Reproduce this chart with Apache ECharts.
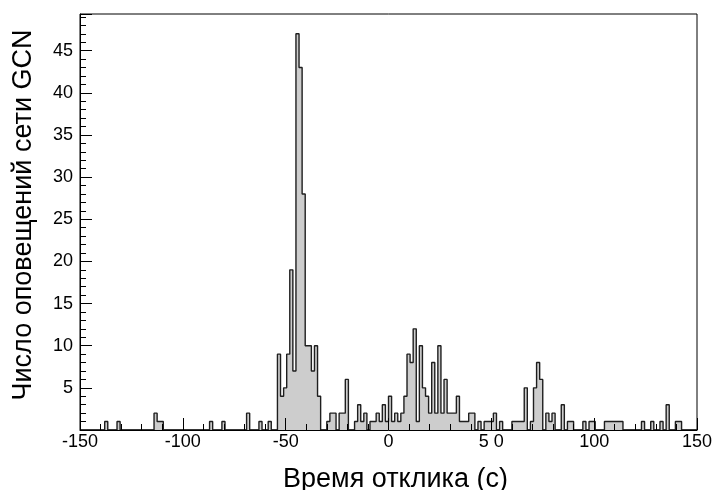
<!DOCTYPE html>
<html><head><meta charset="utf-8">
<script src="https://cdn.jsdelivr.net/npm/echarts@6/dist/echarts.min.js"></script>
<style>html,body{margin:0;padding:0;background:#fff}#c{width:713px;height:490px}</style>
</head><body><div id="c"></div>
<script>
// Histogram: 200 bins of 1.5 s from -150 to 150
const binStart = -150;
const binWidth = 1.5;
const counts = [
  0,0,0,0,0,0,0,0,1,0, 0,0,1,0,0,0,0,0,0,0,
  0,0,0,0,2,1,1,0,0,0, 0,0,0,0,0,0,0,0,0,0,
  0,0,1,0,0,0,1,0,0,0, 0,0,0,0,2,0,0,0,1,0,
  0,1,0,0,9,4,5,9,19,7, 47,43,28,10,10,7,10,4,0,0,
  1,2,2,0,2,2,6,0,0,1, 3,1,2,0,1,1,2,1,3,1,
  4,1,2,1,2,4,9,8,12,1, 10,5,4,2,8,2,10,2,6,2,
  2,2,4,1,1,1,2,2,0,1, 0,1,1,1,2,0,1,0,0,0,
  1,1,1,1,5,0,1,5,8,6, 0,2,1,2,0,0,3,0,1,1,
  0,0,0,1,0,1,1,0,0,0, 1,1,1,1,1,1,0,0,0,0,
  0,0,1,0,0,1,0,0,1,0, 3,0,0,1,1,0,0,0,0,0
];
const xTickValues = [-150,-100,-50,0,50,100,150];
const xTickLabels = ['-150','-100','-50','0','5 0','100','150'];
const yTickValues = [5,10,15,20,25,30,35,40,45];
const yTickLabels = ['5','10','15','20','25','30','35','40','45'];
const xMin = -150, xMax = 150;
const yMin = 0, yMax = 49.35;
const xTitle = 'Время отклика (с)';
const yTitle = 'Число оповещений сети GCN';

const histData = counts.map((c, i) => [binStart + binWidth * i, c]);
histData.push([binStart + binWidth * counts.length, 0]);

const FONT = "'Liberation Sans', Arial, sans-serif";
const chart = echarts.init(document.getElementById('c'), null, {renderer: 'canvas'});

function xFmt(v) { const i = xTickValues.indexOf(Math.round(v)); return (i >= 0 && Math.abs(v - Math.round(v)) < 1e-6) ? xTickLabels[i] : ''; }
function yFmt(v) { const i = yTickValues.indexOf(Math.round(v)); return (i >= 0 && Math.abs(v - Math.round(v)) < 1e-6) ? yTickLabels[i] : ''; }

chart.setOption({
  animation: false,
  backgroundColor: '#fff',
  grid: {left: 80, top: 14, right: 16, bottom: 60, containLabel: false, outerBoundsMode: 'none',
         show: true, borderColor: '#000', borderWidth: 1, backgroundColor: 'transparent'},
  xAxis: [
    {
      type: 'value', min: xMin, max: xMax, interval: 50, position: 'bottom', offset: 0, z: 5,
      axisLine: {show: true, onZero: false, lineStyle: {color: '#000', width: 1}},
      axisTick: {show: true, inside: true, length: 12, lineStyle: {color: '#000', width: 1}},
      axisLabel: {show: true, margin: 3, color: '#000', fontFamily: FONT, fontSize: 18, formatter: xFmt},
      splitLine: {show: false},
      name: xTitle, nameLocation: 'middle', nameGap: 36,
      nameTextStyle: {color: '#000', fontFamily: FONT, fontSize: 27, padding: [0, 0, 0, 14]}
    },
    {
      type: 'value', min: xMin, max: xMax, interval: 10, position: 'bottom', offset: 0, z: 5,
      axisLine: {show: false, onZero: false},
      axisTick: {show: true, inside: true, length: 6, lineStyle: {color: '#000', width: 1}},
      axisLabel: {show: false}, splitLine: {show: false}
    }
  ],
  yAxis: [
    {
      type: 'value', min: yMin, max: yMax, interval: 5, position: 'left', offset: 0, z: 5,
      axisLine: {show: true, onZero: false, lineStyle: {color: '#000', width: 1}},
      axisTick: {show: true, inside: true, length: 12, lineStyle: {color: '#000', width: 1}},
      axisLabel: {show: true, margin: 7, color: '#000', fontFamily: FONT, fontSize: 18, formatter: yFmt},
      splitLine: {show: false},
      name: yTitle, nameLocation: 'middle', nameGap: 43, nameRotate: 90,
      nameTextStyle: {color: '#000', fontFamily: FONT, fontSize: 27, padding: [0, 0, 0, 14]}
    },
    {
      type: 'value', min: yMin, max: yMax, interval: 1, position: 'left', offset: 0, z: 5,
      axisLine: {show: false, onZero: false},
      axisTick: {show: true, inside: true, length: 6, lineStyle: {color: '#000', width: 1}},
      axisLabel: {show: false}, splitLine: {show: false}
    }
  ],
  series: [{
    type: 'line', xAxisIndex: 0, yAxisIndex: 0,
    step: 'end', data: histData, showSymbol: false, symbol: 'none',
    lineStyle: {color: '#1e1e1e', width: 1.4},
    areaStyle: {color: '#cdcdcd', opacity: 1, origin: 'start'},
    z: 2
  }]
});
</script>
</body></html>
